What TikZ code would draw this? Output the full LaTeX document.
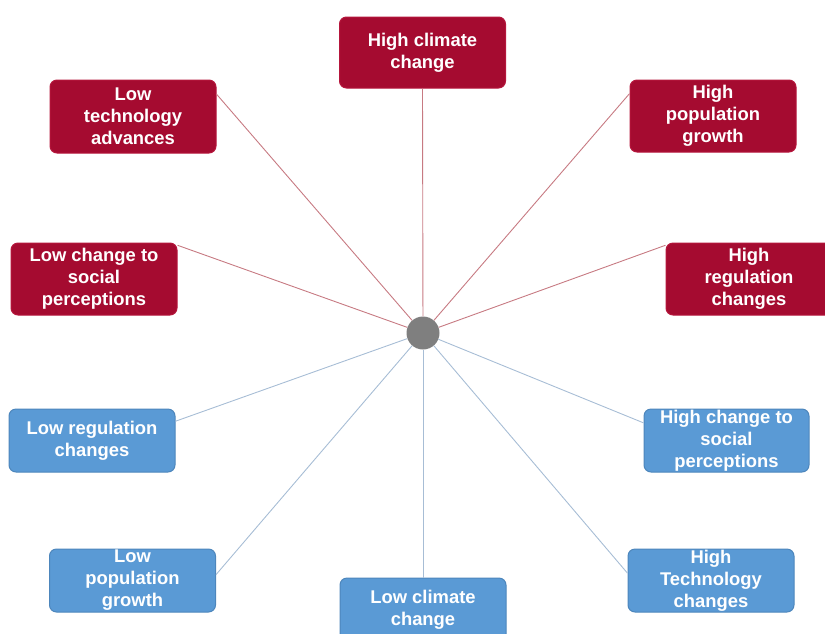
\documentclass[tikz,border=0pt]{standalone}
\usepackage{fontspec}
\setmainfont{Liberation Sans}
\begin{document}
\begin{tikzpicture}[x=1pt,y=-1pt,
  box/.style={rounded corners=7pt, minimum width=166pt, align=center,
    text=white, font=\fontsize{18.4}{22}\selectfont\bfseries, inner sep=0pt, line width=1pt},
  redbox/.style={box, fill=hired, draw=hiredline, minimum height=72pt},
  bluebox/.style={box, fill=loblue, draw=lobluedge, minimum height=63pt},
  redlink/.style={draw=redwire, line width=0.9pt},
  bluelink/.style={draw=bluewire, line width=0.9pt},
  hub/.style={circle, fill=hubgray, minimum size=33pt, inner sep=0pt}]
\definecolor{hired}{HTML}{A50B30}
\definecolor{hiredline}{HTML}{B5163C}
\definecolor{loblue}{HTML}{5A9AD5}
\definecolor{lobluedge}{HTML}{4D86BC}
\definecolor{redwire}{HTML}{C77A82}
\definecolor{bluewire}{HTML}{A7BDD5}
\definecolor{hubgray}{HTML}{7F7F7F}
\useasboundingbox (0,0) rectangle (825,633);
\clip (0,0) rectangle (825,633);

% hub
\node[hub] (c) at (423,333) {};

% high-side drivers
\node[redbox, minimum height=71pt] (hcc) at (422.5,52.5) {High climate\\change};
\node[redbox, minimum height=73pt] (lta) at (133,116.5) {Low\\technology\\advances};
\node[redbox] (lcs) at (94,279) {Low change to\\social\\perceptions};
\node[redbox] (hpg) at (713,116) {High\\population\\growth};
\node[redbox] (hrc) at (749,279) {High\\regulation\\changes};

% low-side drivers
\node[bluebox] (lrc) at (92,440.5) {Low regulation\\changes};
\node[bluebox] (lpg) at (132.5,580.5) {Low\\population\\growth};
\node[bluebox] (lcc) at (423,609.5) {Low climate\\change};
\node[bluebox, minimum width=165pt] (hcs) at (726.5,440.5) {High change to\\social\\perceptions};
\node[bluebox] (htc) at (711,580.5) {High\\Technology\\changes};

% spokes
\draw[redlink] (hcc.south) -- (c);
\draw[redlink] (lta.15) -- (c);
\draw[redlink] (lcs.22) -- (c);
\draw[redlink] (hpg.165) -- (c);
\draw[redlink] (hrc.158.6) -- (c);
\draw[bluelink] (lrc.13.6) -- (c);
\draw[bluelink] (lpg.4.5) -- (c);
\draw[bluelink] (lcc.north) -- (c);
\draw[bluelink] (hcs.168) -- (c);
\draw[bluelink] (htc.175.5) -- (c);
\end{tikzpicture}
\end{document}
